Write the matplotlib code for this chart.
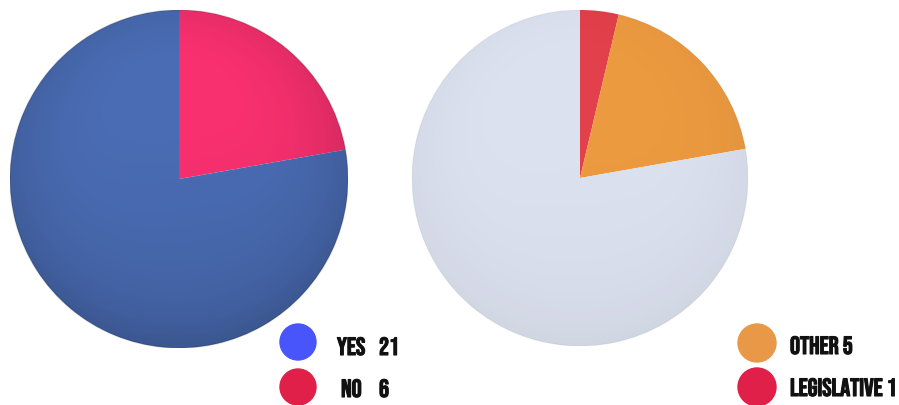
import numpy as np
import matplotlib.pyplot as plt
import matplotlib.patheffects as pe
from matplotlib.patches import Circle
from matplotlib import font_manager as fm

# data
vote_labels = ["NO", "YES"]
vote_values = [6, 21]
vote_colors = ["#f8306f", "#4a6cb4"]

type_labels = ["LEGISLATIVE", "OTHER", "REST"]
type_values = [1, 5, 21]
type_colors = ["#e2404a", "#ec9a40", "#dce1ef"]

# pick a condensed display font that is installed
have = {f.name for f in fm.fontManager.ttflist}
fam = next((n for n in ["Bebas Neue", "Oswald", "Barlow Condensed"] if n in have),
           "DejaVu Sans")

W, H = 899, 405
fig = plt.figure(figsize=(W / 100, H / 100), dpi=100)
fig.patch.set_facecolor("white")


def px_axes(cx, cy, r):
    # axes box in pixel units, y measured from top
    return fig.add_axes([(cx - r) / W, (H - cy - r) / H, 2 * r / W, 2 * r / H])


def shaded_pie(ax, values, colors, strength):
    ax.pie(values, colors=colors, startangle=90, counterclock=False,
           radius=1, wedgeprops=dict(linewidth=0))
    # soft 3d-ish shading on top of the pie
    n = 300
    xs = np.linspace(-1, 1, n)
    X, Y = np.meshgrid(xs, xs)
    R = np.sqrt(X ** 2 + Y ** 2)
    shade = np.clip(0.30 * R ** 4 + 0.18 * (-Y + 0.1 * X) + 0.05, 0, 1)
    rgba = np.zeros((n, n, 4))
    rgba[..., 3] = shade * strength
    im = ax.imshow(rgba, extent=(-1, 1, -1, 1), origin="lower", zorder=5)
    im.set_clip_path(Circle((0, 0), 1, transform=ax.transData))
    ax.add_patch(Circle((0, 0), 1, fill=False, lw=1.0,
                        ec=(0, 0, 0, strength * 0.4), zorder=6))
    ax.set_xlim(-1, 1)
    ax.set_ylim(-1, 1)
    ax.set_aspect("equal")
    ax.axis("off")


ax1 = px_axes(179, 179, 169)
shaded_pie(ax1, vote_values, vote_colors, 0.38)

ax2 = px_axes(580, 178, 168)
shaded_pie(ax2, type_values, type_colors, 0.10)

# legends
lg = fig.add_axes([0, 0, 1, 1])
lg.set_xlim(0, W)
lg.set_ylim(H, 0)
lg.axis("off")

bold = [pe.withStroke(linewidth=0.8, foreground="#111111")]
font = dict(family=fam, fontsize=18, va="center", color="#111111", path_effects=bold)

lg.add_patch(Circle((298, 342), 18, color="#4755fb"))
lg.add_patch(Circle((298, 387), 18, color="#e02048"))
lg.text(337, 346, vote_labels[1], **font)
lg.text(379, 346, str(vote_values[1]), **font)
lg.text(341, 388, vote_labels[0], **font)
lg.text(379, 388, str(vote_values[0]), **font)

lg.add_patch(Circle((757, 343), 19, color="#e99848"))
lg.add_patch(Circle((757, 387), 19, color="#e02048"))
lg.text(790, 345, f"{type_labels[1]} {type_values[1]}", **font)
lg.text(790, 387, f"{type_labels[0]} {type_values[0]}", **font)

fig.savefig("out.png", dpi=100)
